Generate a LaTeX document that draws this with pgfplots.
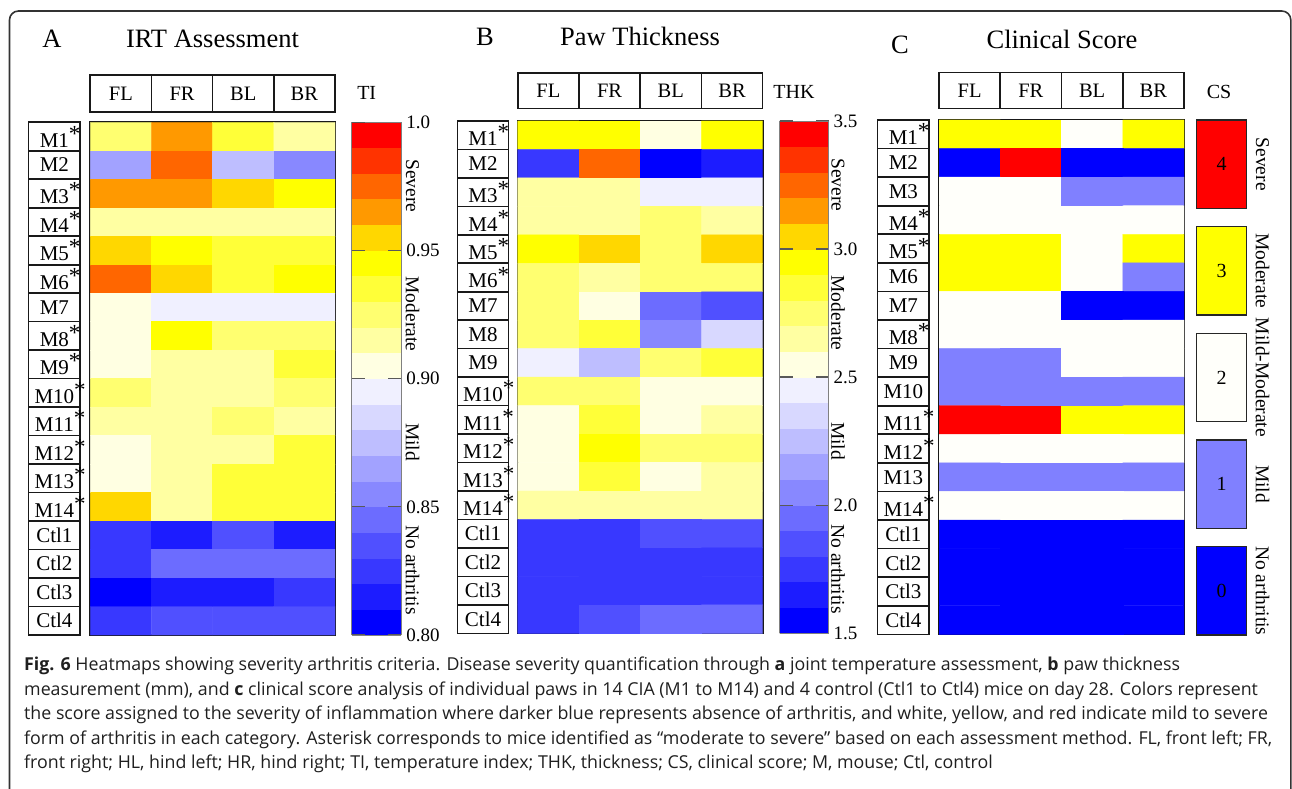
\documentclass[border=0pt]{standalone}
\usepackage{fontspec}
\setmainfont{Liberation Serif}
\newfontfamily\capfont{Open Sans}
\usepackage{pgfplots}
\usepackage{pgfplotstable}
\pgfplotsset{compat=1.18}

\newcommand{\st}{\rlap{\raisebox{0.28em}{\fontsize{23}{23}\selectfont *}}}
\newcommand{\fs}[1]{\fontsize{#1}{#1}\selectfont}

% ---------------- data ----------------
\pgfplotstableread{
x y c
0 0 0.925
1 0 0.965
2 0 0.935
3 0 0.915
0 1 0.865
1 1 0.975
2 1 0.875
3 1 0.855
0 2 0.965
1 2 0.965
2 2 0.955
3 2 0.945
0 3 0.915
1 3 0.915
2 3 0.915
3 3 0.915
0 4 0.955
1 4 0.945
2 4 0.935
3 4 0.935
0 5 0.975
1 5 0.955
2 5 0.935
3 5 0.945
0 6 0.905
1 6 0.895
2 6 0.895
3 6 0.895
0 7 0.905
1 7 0.945
2 7 0.925
3 7 0.925
0 8 0.905
1 8 0.915
2 8 0.915
3 8 0.935
0 9 0.925
1 9 0.915
2 9 0.915
3 9 0.925
0 10 0.915
1 10 0.915
2 10 0.925
3 10 0.915
0 11 0.905
1 11 0.915
2 11 0.915
3 11 0.935
0 12 0.905
1 12 0.915
2 12 0.935
3 12 0.935
0 13 0.955
1 13 0.915
2 13 0.935
3 13 0.935
0 14 0.825
1 14 0.815
2 14 0.835
3 14 0.815
0 15 0.825
1 15 0.845
2 15 0.845
3 15 0.845
0 16 0.805
1 16 0.815
2 16 0.815
3 16 0.825
0 17 0.825
1 17 0.835
2 17 0.835
3 17 0.835
}\tiData

\pgfplotstableread{
x y c
0 0 2.95
1 0 2.95
2 0 2.55
3 0 2.95
0 1 1.75
1 1 3.25
2 1 1.55
3 1 1.65
0 2 2.65
1 2 2.65
2 2 2.45
3 2 2.45
0 3 2.65
1 3 2.65
2 3 2.75
3 3 2.65
0 4 2.95
1 4 3.05
2 4 2.75
3 4 3.05
0 5 2.75
1 5 2.65
2 5 2.75
3 5 2.75
0 6 2.75
1 6 2.55
2 6 1.95
3 6 1.85
0 7 2.75
1 7 2.85
2 7 2.05
3 7 2.35
0 8 2.45
1 8 2.25
2 8 2.75
3 8 2.85
0 9 2.75
1 9 2.75
2 9 2.55
3 9 2.55
0 10 2.55
1 10 2.85
2 10 2.55
3 10 2.65
0 11 2.55
1 11 2.95
2 11 2.75
3 11 2.75
0 12 2.55
1 12 2.85
2 12 2.55
3 12 2.65
0 13 2.65
1 13 2.65
2 13 2.65
3 13 2.65
0 14 1.75
1 14 1.75
2 14 1.85
3 14 1.85
0 15 1.75
1 15 1.75
2 15 1.75
3 15 1.75
0 16 1.75
1 16 1.75
2 16 1.75
3 16 1.75
0 17 1.75
1 17 1.85
2 17 1.95
3 17 1.95
}\thkData

\pgfplotstableread{
x y c
0 0 3
1 0 3
2 0 2
3 0 3
0 1 0
1 1 4
2 1 0
3 1 0
0 2 2
1 2 2
2 2 1
3 2 1
0 3 2
1 3 2
2 3 2
3 3 2
0 4 3
1 4 3
2 4 2
3 4 3
0 5 3
1 5 3
2 5 2
3 5 1
0 6 2
1 6 2
2 6 0
3 6 0
0 7 2
1 7 2
2 7 2
3 7 2
0 8 1
1 8 1
2 8 2
3 8 2
0 9 1
1 9 1
2 9 1
3 9 1
0 10 4
1 10 4
2 10 3
3 10 3
0 11 2
1 11 2
2 11 2
3 11 2
0 12 1
1 12 1
2 12 1
3 12 1
0 13 2
1 13 2
2 13 2
3 13 2
0 14 0
1 14 0
2 14 0
3 14 0
0 15 0
1 15 0
2 15 0
3 15 0
0 16 0
1 16 0
2 16 0
3 16 0
0 17 0
1 17 0
2 17 0
3 17 0
}\csData

\pgfplotsset{
 colormap={heat}{
  rgb255=(0,0,255) rgb255=(28,28,255) rgb255=(56,56,255) rgb255=(80,80,255)
  rgb255=(108,108,255) rgb255=(136,136,255) rgb255=(162,162,255) rgb255=(190,190,255)
  rgb255=(216,216,255) rgb255=(240,240,255) rgb255=(255,255,226) rgb255=(255,255,162)
  rgb255=(255,255,112) rgb255=(255,255,56) rgb255=(255,255,0) rgb255=(255,215,0)
  rgb255=(255,153,0) rgb255=(255,102,0) rgb255=(255,51,0) rgb255=(255,0,0)
 },
 colormap={csmap}{
  rgb255=(0,0,255) rgb255=(128,128,255) rgb255=(255,255,250) rgb255=(255,255,0)
  rgb255=(255,0,0)
 },
 hm/.style={
  scale only axis, y dir=reverse, enlargelimits=false,
  xmin=-0.5, xmax=3.5, ymin=-0.5, ymax=17.5,
  xtick={0,1,2,3}, xticklabels={FL,FR,BL,BR}, xticklabel pos=right,
  ytick={0,1,...,17},
  major tick length=0pt,
  axis line style={line width=2pt, black!90},
  colormap access=piecewise constant,
  xticklabel style={draw=black!90, line width=1.6pt, inner sep=0pt, anchor=south,
     minimum width=61.2pt, font=\fs{20.5}},
  yticklabel style={draw=black!90, line width=1.6pt, inner sep=0pt, anchor=east,
     minimum height=28.48pt, font=\fs{21}},
 },
 cb/.style={
  at={(parent axis.north east)}, anchor=north west, xshift=8.3pt,
  scale only axis, y dir=normal,
  ytick pos=both, yticklabel pos=right, tick align=inside,
  major tick length=13pt,
  ytick style={draw=black!65, line width=1.3pt},
  axis line style={draw=black!50, line width=0.8pt},
  every y tick label/.style={anchor=west, inner sep=0pt, draw=none, xshift=5pt, font=\fs{19}},
 },
}

\begin{document}
\begin{tikzpicture}
\path[use as bounding box] (0pt,0pt) rectangle (1292pt,789pt);
\draw[line width=1.6pt, black!80, rounded corners=9pt]
  (9.5pt,-20pt) -- (9.5pt,778pt) -- (1290.8pt,778pt) -- (1290.8pt,-20pt);

% ---------------- Panel A ----------------
\begin{axis}[hm, at={(90.3pt,154pt)}, anchor=south west,
  width=244.7pt, height=512.7pt,
  point meta min=0.8, point meta max=1.0, colormap name=heat,
  yticklabels={M1\st,M2,M3\st,M4\st,M5\st,M6\st,M7,M8\st,M9\st,M10\st,M11\st,M12\st,M13\st,M14\st,Ctl1,Ctl2,Ctl3,Ctl4},
  yticklabel style={minimum width=51.7pt, xshift=-9.3pt},
  xticklabel style={minimum height=36.7pt, yshift=9.6pt},
  colorbar,
  colorbar style={cb, width=49.4pt,
    ytick={0.8,0.85,0.9,0.95,1.0},
    yticklabels={0.80,0.85,0.90,0.95,1.0}},
]
\addplot[matrix plot*, mesh/cols=4, point meta=explicit, shader=flat corner]
  table[x=x, y=y, meta=c] {\tiData};
\end{axis}

% ---------------- Panel B ----------------
\begin{axis}[hm, at={(517.7pt,155.7pt)}, anchor=south west,
  width=245pt, height=512.3pt,
  point meta min=1.5, point meta max=3.5, colormap name=heat,
  yticklabels={M1\st,M2,M3\st,M4\st,M5\st,M6\st,M7,M8,M9,M10\st,M11\st,M12\st,M13\st,M14\st,Ctl1,Ctl2,Ctl3,Ctl4},
  yticklabel style={minimum width=51pt, xshift=-8.4pt},
  xticklabel style={minimum height=35.3pt, yshift=11.7pt},
  colorbar,
  colorbar style={cb, width=49pt,
    ytick={1.5,2.0,2.5,3.0,3.5},
    yticklabels={1.5,2.0,2.5,3.0,3.5}},
]
\addplot[matrix plot*, mesh/cols=4, point meta=explicit, shader=flat corner]
  table[x=x, y=y, meta=c] {\thkData};
\end{axis}

% ---------------- Panel C ----------------
\begin{axis}[hm, at={(939pt,154.7pt)}, anchor=south west,
  width=245pt, height=514.3pt,
  point meta min=-0.5, point meta max=4.5, colormap name=csmap,
  yticklabels={M1\st,M2,M3,M4\st,M5\st,M6,M7,M8\st,M9,M10,M11\st,M12\st,M13,M14\st,Ctl1,Ctl2,Ctl3,Ctl4},
  yticklabel style={minimum width=51.7pt, minimum height=28.57pt, xshift=-9pt},
  xticklabel style={minimum height=36pt, yshift=10.7pt},
]
\addplot[matrix plot*, mesh/cols=4, point meta=explicit, shader=flat corner]
  table[x=x, y=y, meta=c] {\csData};
\end{axis}

% ---------------- titles ----------------
\node[anchor=base, font=\fs{26.5}] at (52pt,741pt) {A};
\node[anchor=base, font=\fs{26.5}] at (212.5pt,741pt) {IRT Assessment};
\node[anchor=base, font=\fs{26.5}] at (485pt,743.5pt) {B};
\node[anchor=base, font=\fs{26.5}] at (640pt,743.5pt) {Paw Thickness};
\node[anchor=base, font=\fs{26.5}] at (900pt,735pt) {C};
\node[anchor=base, font=\fs{26.5}] at (1062pt,740pt) {Clinical Score};

\node[font=\fs{20}] at (366.7pt,695.7pt) {TI};
\node[font=\fs{20}] at (794pt,697.3pt) {THK};
\node[font=\fs{20}] at (1219pt,697pt) {CS};

% ---------------- colour-bar category labels ----------------
\foreach \xx/\yy/\tt in {412.5/603/Severe, 412.5/475/Moderate, 412.5/347/Mild, 412.5/219/No arthritis,
                         838/604/Severe, 838/476/Moderate, 838/348/Mild, 838/220/No arthritis}
  \node[rotate=-90, font=\fs{19.5}] at (\xx pt,\yy pt) {\tt};

% ---------------- clinical score legend ----------------
\foreach \top/\bot/\col/\num/\lab in {
   120/208.3/{rgb,255:red,255;green,0;blue,0}/4/Severe,
   226.7/315/{rgb,255:red,255;green,255;blue,0}/3/Moderate,
   333.3/421.7/{rgb,255:red,255;green,255;blue,250}/2/Mild-Moderate,
   440/528.3/{rgb,255:red,128;green,128;blue,255}/1/Mild,
   546.7/635/{rgb,255:red,0;green,0;blue,255}/0/No arthritis}{
  \draw[draw=black!85, line width=1.2pt, fill=\col]
     (1196.7pt,789pt-\top pt) rectangle (1246.7pt,789pt-\bot pt);
  \node[font=\fs{20}] at (1221.7pt,789pt-0.5*\top pt-0.5*\bot pt) {\num};
  \node[rotate=-90, font=\fs{19.5}] at (1262.5pt,789pt-0.5*\top pt-0.5*\bot pt) {\lab};
}

% ---------------- caption ----------------
\begin{scope}[every node/.style={anchor=base west, inner sep=0pt, text=black!88, font=\capfont\fs{17.8}}]
\node at (24pt,118pt) {\textbf{Fig. 6} Heatmaps showing severity arthritis criteria. Disease severity quantification through \textbf{a} joint temperature assessment, \textbf{b} paw thickness};
\node at (24pt,93.5pt) {measurement (mm), and \textbf{c} clinical score analysis of individual paws in 14 CIA (M1 to M14) and 4 control (Ctl1 to Ctl4) mice on day 28. Colors represent};
\node at (24pt,69pt) {the score assigned to the severity of inflammation where darker blue represents absence of arthritis, and white, yellow, and red indicate mild to severe};
\node at (24pt,44.5pt) {form of arthritis in each category. Asterisk corresponds to mice identified as “moderate to severe” based on each assessment method. FL, front left; FR,};
\node at (24pt,20pt) {front right; HL, hind left; HR, hind right; TI, temperature index; THK, thickness; CS, clinical score; M, mouse; Ctl, control};
\end{scope}
\end{tikzpicture}
\end{document}
